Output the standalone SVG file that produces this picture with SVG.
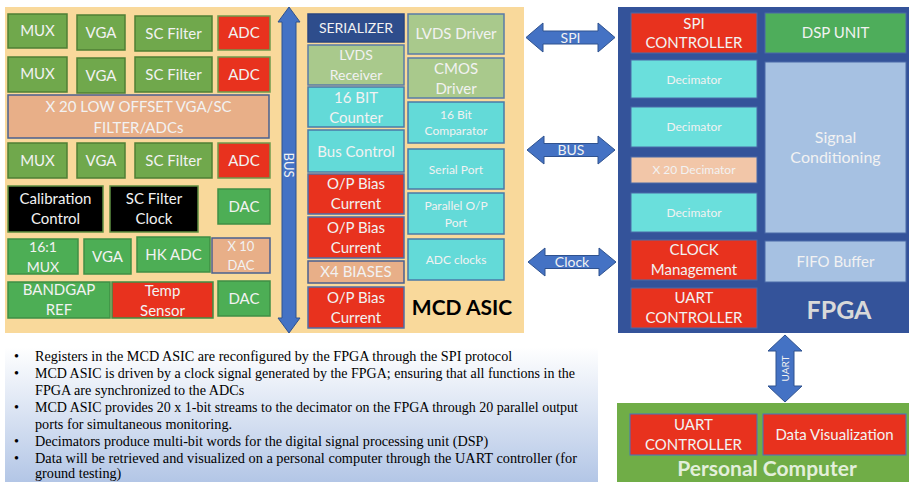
<svg xmlns="http://www.w3.org/2000/svg" width="909" height="482" viewBox="0 0 909 482">
<defs>
<linearGradient id="txtbg" x1="0" y1="0" x2="0" y2="1">
<stop offset="0" stop-color="#FFFFFF"/>
<stop offset="1" stop-color="#B3C6E6"/>
</linearGradient>
<style>
text{font-family:Lato,"Open Sans","Liberation Sans",sans-serif;fill:#F2F2F2;text-anchor:middle}
.s15{font-size:15px}.s14{font-size:14px}.s13{font-size:13px}.s12{font-size:12px}
.og{fill:#70A84C;stroke:#4F7F35;stroke-width:1.5}
.bg{fill:#4DAE55;stroke:#3F8F45;stroke-width:1.5}
.rd{fill:#E8321E;stroke:#6F9A4E;stroke-width:1.5}
.rdg{fill:#E8321E;stroke:#3F8F45;stroke-width:1.5}
.rdb{fill:#E8321E;stroke:#4F6FA8;stroke-width:1.5}
.pe{fill:#E8AF88;stroke:#4A6090;stroke-width:1.5}
.bk{fill:#000;stroke:#5E8F42;stroke-width:1.5}
.lg{fill:#A9C98C;stroke:#5A7BA8;stroke-width:1.5}
.cy{fill:#63DAD8;stroke:#4A7AA8;stroke-width:1.5}
.db{fill:#2E4D8C;stroke:#2A4580;stroke-width:1.5}
.fr{fill:#E8321E;stroke:#4A6AA8;stroke-width:1}
.fg{fill:#4EAD5B;stroke:#4A6AA8;stroke-width:1}
.fc{fill:#6ADFDC;stroke:#4A6AA8;stroke-width:1}
.fp{fill:#F2C6A8;stroke:#4A6AA8;stroke-width:1}
.fl{fill:#A6C1E2;stroke:#4A6AA8;stroke-width:1}
.arr{fill:#4472C4;stroke:#2F528F;stroke-width:1}
.bul{font-family:"Liberation Serif","Times New Roman",serif;font-size:14.2px;fill:#000;text-anchor:start}
</style>
</defs>
<rect width="909" height="482" fill="#FFFFFF"/>

<!-- MCD ASIC background -->
<g id="asic">
<rect x="5" y="7" width="519" height="326" fill="#F9D99B"/>
<text x="462" y="315" style="font-size:21px;font-weight:bold;fill:#000">MCD ASIC</text>
</g>

<g id="mux1"><rect class="og" x="8" y="14" width="59" height="34"/><text class="s15" x="37.5" y="36">MUX</text></g>
<g id="vga1"><rect class="og" x="77" y="15" width="48" height="35"/><text class="s15" x="101" y="38">VGA</text></g>
<g id="scf1"><rect class="og" x="135" y="16" width="77" height="35"/><text class="s15" x="173.5" y="39">SC Filter</text></g>
<g id="adc1"><rect class="rd" x="218" y="16" width="52" height="34"/><text class="s15" x="244" y="38">ADC</text></g>

<g id="mux2"><rect class="og" x="8" y="57" width="59" height="35"/><text class="s15" x="37.5" y="79">MUX</text></g>
<g id="vga2"><rect class="og" x="77" y="58" width="48" height="35"/><text class="s15" x="101" y="81">VGA</text></g>
<g id="scf2"><rect class="og" x="135" y="57" width="77" height="35"/><text class="s15" x="173.5" y="80">SC Filter</text></g>
<g id="adc2"><rect class="rd" x="218" y="57" width="52" height="35"/><text class="s15" x="244" y="80">ADC</text></g>

<g id="x20band"><rect class="pe" x="8" y="95" width="261" height="43"/><text class="s15" x="138.5" y="112">X 20 LOW OFFSET VGA/SC</text><text class="s15" x="138.5" y="133">FILTER/ADCs</text></g>

<g id="mux3"><rect class="og" x="8" y="143" width="59" height="35"/><text class="s15" x="37.5" y="166">MUX</text></g>
<g id="vga3"><rect class="og" x="77" y="143" width="48" height="35"/><text class="s15" x="101" y="166">VGA</text></g>
<g id="scf3"><rect class="og" x="135" y="143" width="77" height="35"/><text class="s15" x="173.5" y="166">SC Filter</text></g>
<g id="adc3"><rect class="rd" x="218" y="143" width="52" height="35"/><text class="s15" x="244" y="166">ADC</text></g>

<g id="calib"><rect class="bk" x="8" y="186" width="95" height="46"/><text class="s15" x="55.5" y="204">Calibration</text><text class="s15" x="55.5" y="224">Control</text></g>
<g id="scclk"><rect class="bk" x="110" y="186" width="88" height="46"/><text class="s15" x="154" y="204">SC Filter</text><text class="s15" x="154" y="224">Clock</text></g>
<g id="dac1"><rect class="bg" x="218" y="189" width="52" height="35"/><text class="s15" x="244" y="212">DAC</text></g>

<g id="mux16"><rect class="bg" x="8" y="239" width="70" height="35"/><text class="s14" x="43" y="252">16:1</text><text class="s14" x="43" y="272">MUX</text></g>
<g id="vga4"><rect class="bg" x="84" y="239" width="47" height="35"/><text class="s15" x="107.5" y="262">VGA</text></g>
<g id="hkadc"><rect class="bg" x="137" y="237" width="73" height="35"/><text class="s15" x="173.5" y="260">HK ADC</text></g>
<g id="x10dac"><rect class="pe" x="212" y="238" width="58" height="35"/><text class="s13" x="241" y="251">X 10</text><text class="s13" x="241" y="270">DAC</text></g>

<g id="bandgap"><rect class="bg" x="8" y="282" width="102" height="36"/><text class="s15" x="59" y="295">BANDGAP</text><text class="s15" x="59" y="315">REF</text></g>
<g id="temp"><rect class="rdg" x="112" y="282" width="101" height="36"/><text class="s15" x="162.5" y="296">Temp</text><text class="s15" x="162.5" y="316">Sensor</text></g>
<g id="dac2"><rect class="bg" x="218" y="281" width="52" height="35"/><text class="s15" x="244" y="304">DAC</text></g>

<!-- middle column -->
<g id="serializer"><rect class="db" x="308" y="14" width="96" height="28"/><text class="s14" x="356" y="33">SERIALIZER</text></g>
<g id="lvdsrx"><rect class="lg" x="308" y="45" width="96" height="40"/><text class="s14" x="356" y="60">LVDS</text><text class="s14" x="356" y="80">Receiver</text></g>
<g id="counter"><rect class="cy" x="308" y="87" width="96" height="40"/><text class="s15" x="356" y="103">16 BIT</text><text class="s15" x="356" y="123">Counter</text></g>
<g id="busctl"><rect class="cy" x="308" y="130" width="96" height="42"/><text class="s15" x="356" y="157">Bus Control</text></g>
<g id="opb1"><rect class="rdb" x="308" y="174" width="96" height="40"/><text class="s15" x="356" y="189">O/P Bias</text><text class="s15" x="356" y="209">Current</text></g>
<g id="opb2"><rect class="rdb" x="308" y="217" width="96" height="41"/><text class="s15" x="356" y="233">O/P Bias</text><text class="s15" x="356" y="253">Current</text></g>
<g id="x4bias"><rect class="pe" x="308" y="261" width="96" height="22"/><text class="s15" x="356" y="277">X4 BIASES</text></g>
<g id="opb3"><rect class="rdb" x="308" y="287" width="96" height="41"/><text class="s15" x="356" y="303">O/P Bias</text><text class="s15" x="356" y="323">Current</text></g>

<g id="lvdsdrv"><rect class="lg" x="408" y="14" width="96" height="40"/><text class="s15" x="456" y="39">LVDS Driver</text></g>
<g id="cmosdrv"><rect class="lg" x="408" y="58" width="96" height="40"/><text class="s15" x="456" y="74">CMOS</text><text class="s15" x="456" y="94">Driver</text></g>
<g id="comp"><rect class="cy" x="408" y="102" width="96" height="41"/><text class="s12" x="456" y="119">16 Bit</text><text class="s12" x="456" y="135">Comparator</text></g>
<g id="serport"><rect class="cy" x="408" y="149" width="96" height="40"/><text class="s12" x="456" y="174">Serial Port</text></g>
<g id="parport"><rect class="cy" x="408" y="193" width="96" height="41"/><text class="s12" x="456" y="210">Parallel O/P</text><text class="s12" x="456" y="227">Port</text></g>
<g id="adcclk"><rect class="cy" x="408" y="239" width="96" height="41"/><text class="s12" x="456" y="264">ADC clocks</text></g>

<!-- FPGA -->
<g id="fpga">
<rect x="618" y="7" width="291" height="326" fill="#34539A"/>
<text x="839" y="319" style="font-size:25px;font-weight:bold;fill:#D9D9D9">FPGA</text>
</g>
<g id="spictl"><rect class="fr" x="631" y="13" width="126" height="40"/><text class="s15" x="694" y="29">SPI</text><text class="s15" x="694" y="48">CONTROLLER</text></g>
<g id="dsp"><rect class="fg" x="765" y="13" width="141" height="40"/><text class="s15" x="835.5" y="38">DSP UNIT</text></g>
<g id="dec1"><rect class="fc" x="631" y="60" width="126" height="38"/><text class="s12" x="694" y="84">Decimator</text></g>
<g id="dec2"><rect class="fc" x="631" y="107" width="126" height="40"/><text class="s12" x="694" y="131">Decimator</text></g>
<g id="dec20"><rect class="fp" x="631" y="157" width="126" height="26"/><text class="s12" x="694" y="174">X 20 Decimator</text></g>
<g id="dec4"><rect class="fc" x="631" y="193" width="126" height="39"/><text class="s12" x="694" y="217">Decimator</text></g>
<g id="clkmgmt"><rect class="fr" x="631" y="240" width="126" height="40"/><text class="s15" x="694" y="255">CLOCK</text><text class="s15" x="694" y="275">Management</text></g>
<g id="uartfpga"><rect class="fr" x="631" y="288" width="126" height="40"/><text class="s15" x="694" y="303">UART</text><text class="s15" x="694" y="323">CONTROLLER</text></g>
<g id="sigcond"><rect class="fl" x="765" y="62" width="141" height="171"/><text style="font-size:16px" x="835.5" y="143">Signal</text><text style="font-size:16px" x="835.5" y="163">Conditioning</text></g>
<g id="fifo"><rect class="fl" x="765" y="241" width="141" height="41"/><text class="s15" x="835.5" y="267">FIFO Buffer</text></g>

<!-- Personal computer -->
<g id="pc">
<rect x="617" y="403" width="292" height="79" fill="#70AD47"/>
<text x="767" y="476" style="font-size:21px;font-weight:bold;fill:#E2EFDA">Personal Computer</text>
</g>
<g id="uartpc"><rect class="fr" x="630" y="414" width="127" height="41" style="stroke:#4472C4"/><text class="s15" x="693.5" y="430">UART</text><text class="s15" x="693.5" y="450">CONTROLLER</text></g>
<g id="datavis"><rect class="fr" x="763" y="414" width="143" height="41" style="stroke:#4472C4"/><text class="s15" x="834.5" y="440">Data Visualization</text></g>

<!-- connectors -->
<g id="connectors">
<path class="arr" d="M289,7 L300,22 L296,22 L296,318 L300,318 L289,333 L278,318 L282,318 L282,22 L278,22 Z"/>
<text transform="translate(289,165) rotate(90)" x="0" y="5" class="s13">BUS</text>

<path class="arr" d="M526,37.5 L543,23 L543,31 L598,31 L598,23 L615,37.5 L598,52 L598,44 L543,44 L543,52 Z"/>
<text class="s14" x="570.5" y="43">SPI</text>

<path class="arr" d="M527,150 L544,136 L544,143.5 L598,143.5 L598,136 L615,150 L598,164 L598,156.5 L544,156.5 L544,164 Z"/>
<text class="s14" x="571" y="155">BUS</text>

<path class="arr" d="M528,262 L545,248 L545,255.5 L599,255.5 L599,248 L616,262 L599,276 L599,268.5 L545,268.5 L545,276 Z"/>
<text class="s14" x="572" y="267">Clock</text>

<path class="arr" d="M785,335 L802,351 L794,351 L794,386 L802,386 L785,402 L768,386 L776,386 L776,351 L768,351 Z"/>
<text transform="translate(785,368.5) rotate(-90)" x="0" y="3.5" style="font-size:10px">UART</text>
</g>

<!-- bullet text -->
<g id="notes">
<rect x="5" y="347" width="593" height="135" fill="url(#txtbg)"/>
<text class="bul" x="14" y="361">•</text>
<text class="bul" x="35" y="361">Registers in the MCD ASIC are reconfigured by the FPGA through the SPI protocol</text>
<text class="bul" x="14" y="378">•</text>
<text class="bul" x="35" y="378" textLength="540" lengthAdjust="spacingAndGlyphs">MCD ASIC is driven by a clock signal generated by the FPGA; ensuring that all functions in the</text>
<text class="bul" x="35" y="395">FPGA are synchronized to the ADCs</text>
<text class="bul" x="14" y="412">•</text>
<text class="bul" x="35" y="412" textLength="543" lengthAdjust="spacingAndGlyphs">MCD ASIC provides 20 x 1-bit streams to the decimator on the FPGA through 20 parallel output</text>
<text class="bul" x="35" y="429">ports for simultaneous monitoring.</text>
<text class="bul" x="14" y="446">•</text>
<text class="bul" x="35" y="446">Decimators produce multi-bit words for the digital signal processing unit (DSP)</text>
<text class="bul" x="14" y="463">•</text>
<text class="bul" x="35" y="463" textLength="542" lengthAdjust="spacingAndGlyphs">Data will be retrieved and visualized on a personal computer through the UART controller (for</text>
<text class="bul" x="35" y="478">ground testing)</text>
</g>
</svg>
